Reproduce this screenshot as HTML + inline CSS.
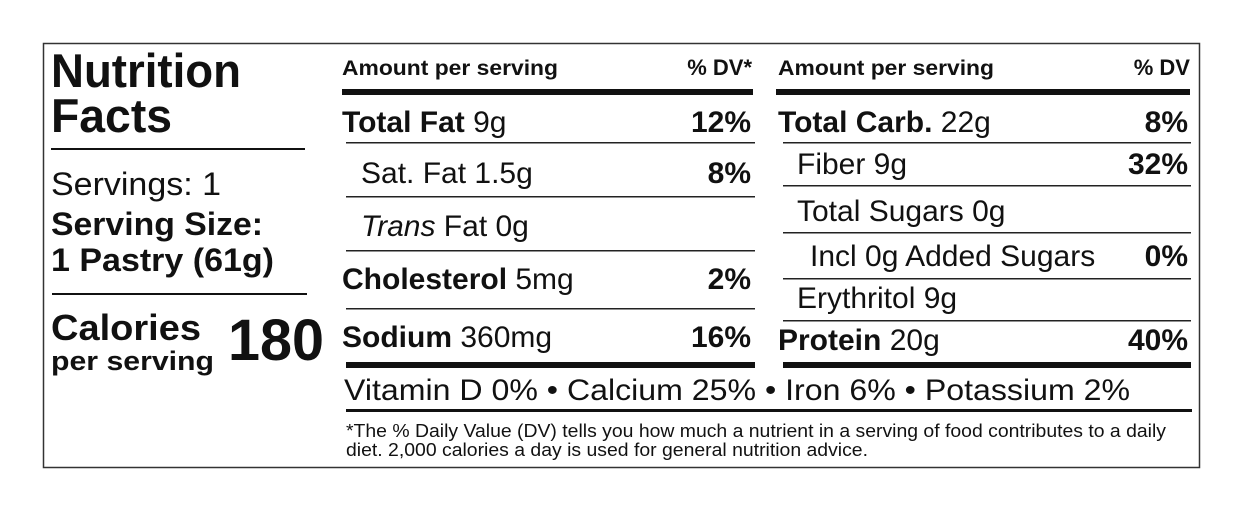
<!DOCTYPE html>
<html><head><meta charset="utf-8"><style>
html,body{margin:0;padding:0;background:#fff;}
svg{display:block;font-family:"Liberation Sans",Arial,sans-serif;fill:#111;}
.b{font-weight:bold;}
</style></head><body>
<svg width="1243" height="511" viewBox="0 0 1243 511" xmlns="http://www.w3.org/2000/svg">
<rect x="0" y="0" width="1243" height="511" fill="#fff"/>
<rect x="43.5" y="43.5" width="1156" height="424" fill="none" stroke="#333" stroke-width="1.5"/>

<!-- left column -->
<text x="51" y="87" class="b" font-size="47" textLength="190" lengthAdjust="spacingAndGlyphs">Nutrition</text>
<text x="51" y="132" class="b" font-size="47" textLength="121" lengthAdjust="spacingAndGlyphs">Facts</text>
<rect x="51" y="148" width="254" height="2" fill="#111"/>
<text x="51" y="195" font-size="32" textLength="170" lengthAdjust="spacingAndGlyphs">Servings: 1</text>
<text x="51" y="235" class="b" font-size="32" textLength="212" lengthAdjust="spacingAndGlyphs">Serving Size:</text>
<text x="51" y="271" class="b" font-size="32" textLength="223" lengthAdjust="spacingAndGlyphs">1 Pastry (61g)</text>
<rect x="52" y="293" width="255" height="2" fill="#111"/>
<text x="51" y="340" class="b" font-size="36" textLength="150" lengthAdjust="spacingAndGlyphs">Calories</text>
<text x="51" y="370" class="b" font-size="27" textLength="163" lengthAdjust="spacingAndGlyphs">per serving</text>
<text x="228" y="360" class="b" font-size="58" textLength="96" lengthAdjust="spacingAndGlyphs">180</text>

<!-- middle column -->
<text x="342" y="75" class="b" font-size="21" textLength="216" lengthAdjust="spacingAndGlyphs">Amount per serving</text>
<text x="752" y="75" class="b" font-size="22" text-anchor="end">% DV*</text>
<rect x="342" y="89" width="411" height="6" fill="#111"/>
<text x="342" y="132" font-size="30"><tspan class="b">Total Fat</tspan> 9g</text>
<text x="751" y="132" class="b" font-size="30" text-anchor="end">12%</text>
<rect x="346" y="142" width="409" height="1.5" fill="#222"/>
<text x="361" y="183" font-size="30">Sat. Fat 1.5g</text>
<text x="751" y="183" class="b" font-size="30" text-anchor="end">8%</text>
<rect x="346" y="196" width="409" height="1.5" fill="#222"/>
<text x="361" y="236" font-size="30"><tspan font-style="italic">Trans</tspan> Fat 0g</text>
<rect x="346" y="250" width="409" height="1.5" fill="#222"/>
<text x="342" y="289" font-size="30"><tspan class="b">Cholesterol</tspan> 5mg</text>
<text x="751" y="289" class="b" font-size="30" text-anchor="end">2%</text>
<rect x="346" y="308" width="409" height="1.5" fill="#222"/>
<text x="342" y="347" font-size="30"><tspan class="b">Sodium</tspan> 360mg</text>
<text x="751" y="347" class="b" font-size="30" text-anchor="end">16%</text>
<rect x="346" y="362" width="409" height="6" fill="#111"/>

<!-- right column -->
<text x="778" y="75" class="b" font-size="21" textLength="216" lengthAdjust="spacingAndGlyphs">Amount per serving</text>
<text x="1190" y="75" class="b" font-size="22" text-anchor="end">% DV</text>
<rect x="776" y="89" width="414" height="6" fill="#111"/>
<text x="778" y="132" font-size="30"><tspan class="b">Total Carb.</tspan> 22g</text>
<text x="1188" y="132" class="b" font-size="30" text-anchor="end">8%</text>
<rect x="783" y="142" width="408" height="1.5" fill="#222"/>
<text x="797" y="174" font-size="30">Fiber 9g</text>
<text x="1188" y="174" class="b" font-size="30" text-anchor="end">32%</text>
<rect x="783" y="185" width="408" height="1.5" fill="#222"/>
<text x="797" y="221" font-size="30">Total Sugars 0g</text>
<rect x="783" y="232" width="408" height="1.5" fill="#222"/>
<text x="810" y="266" font-size="30">Incl 0g Added Sugars</text>
<text x="1188" y="266" class="b" font-size="30" text-anchor="end">0%</text>
<rect x="783" y="278" width="408" height="1.5" fill="#222"/>
<text x="797" y="308" font-size="30">Erythritol 9g</text>
<rect x="783" y="320" width="408" height="1.5" fill="#222"/>
<text x="778" y="350" font-size="30"><tspan class="b">Protein</tspan> 20g</text>
<text x="1188" y="350" class="b" font-size="30" text-anchor="end">40%</text>
<rect x="783" y="362" width="408" height="6" fill="#111"/>

<!-- bottom -->
<text x="344" y="400" font-size="30" textLength="786" lengthAdjust="spacingAndGlyphs">Vitamin D 0% • Calcium 25% • Iron 6% • Potassium 2%</text>
<rect x="346" y="409" width="846" height="3" fill="#111"/>
<text x="346" y="437" font-size="18" textLength="820" lengthAdjust="spacingAndGlyphs">*The % Daily Value (DV) tells you how much a nutrient in a serving of food contributes to a daily</text>
<text x="346" y="456" font-size="18" textLength="522" lengthAdjust="spacingAndGlyphs">diet. 2,000 calories a day is used for general nutrition advice.</text>
</svg>
</body></html>
